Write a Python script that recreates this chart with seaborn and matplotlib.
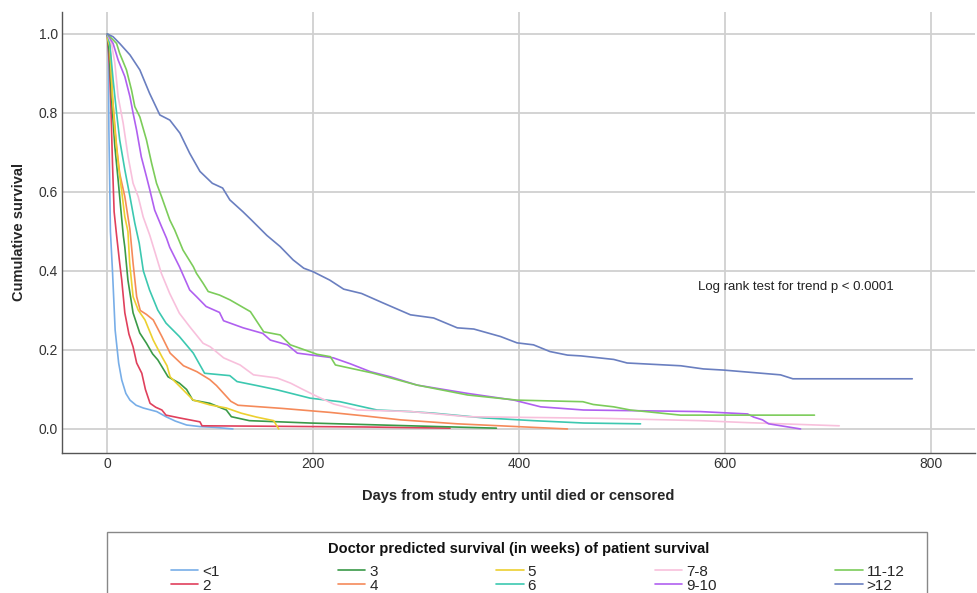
import seaborn as sns
import matplotlib.pyplot as plt
import matplotlib.patches as mpatches
import pandas as pd

# Kaplan-Meier curves, one pair of lists per group
groups = ["<1", "2", "3", "4", "5", "6", "7-8", "9-10", "11-12", ">12"]

days_lt1 = [0, 1, 1.5, 3, 5, 7.6, 11, 14, 18, 22, 28, 35, 48, 57, 66, 77, 90, 105, 122]
surv_lt1 = [1.0, 0.95, 0.76, 0.50, 0.40, 0.25, 0.167, 0.124, 0.09, 0.073, 0.06, 0.053,
            0.044, 0.031, 0.02, 0.01, 0.006, 0.004, 0.0]

days_2 = [0, 2, 3.2, 5, 6.6, 9, 12, 14, 17, 21, 25, 28.5, 33.5, 37, 41.5, 47, 53, 57, 70,
          90, 92, 150, 250, 333]
surv_2 = [1.0, 0.92, 0.841, 0.673, 0.55, 0.49, 0.42, 0.377, 0.294, 0.24, 0.208, 0.167,
          0.141, 0.10, 0.065, 0.055, 0.048, 0.035, 0.028, 0.018, 0.008, 0.007, 0.005, 0.002]

days_3 = [0, 2, 4, 7.3, 10.5, 13.8, 15.5, 17, 20, 25, 31.5, 38, 44, 49, 59, 70, 77, 83,
          99.5, 115.6, 120.5, 138, 197, 294, 378]
surv_3 = [1.0, 0.95, 0.841, 0.715, 0.63, 0.537, 0.49, 0.46, 0.377, 0.294, 0.243, 0.217,
          0.19, 0.175, 0.132, 0.116, 0.10, 0.073, 0.065, 0.048, 0.031, 0.021, 0.015, 0.008, 0.002]

days_4 = [0, 2.4, 5, 9, 12, 17, 22, 25, 28.5, 32, 38, 44.6, 53, 61, 74, 87, 99.5, 106, 113,
          120, 127, 170, 216, 250, 285, 340, 398, 447]
surv_4 = [0.99, 0.976, 0.841, 0.715, 0.647, 0.588, 0.504, 0.42, 0.335, 0.30, 0.29, 0.276,
          0.234, 0.192, 0.16, 0.145, 0.125, 0.11, 0.09, 0.07, 0.06, 0.052, 0.042, 0.033,
          0.023, 0.013, 0.006, 0.0]

days_5 = [0, 2.4, 5, 7.3, 10.5, 13.8, 17, 20, 21.7, 25, 30, 36.6, 44.6, 53, 58, 61, 70.6,
          83.5, 99.5, 115.7, 130, 145, 161.6, 166.5]
surv_5 = [0.99, 0.968, 0.841, 0.757, 0.673, 0.605, 0.537, 0.50, 0.42, 0.335, 0.301, 0.276,
          0.225, 0.183, 0.16, 0.132, 0.107, 0.073, 0.061, 0.053, 0.04, 0.03, 0.021, 0.0]

days_6 = [0, 2.4, 5.6, 9, 12, 17, 22, 26.7, 31, 35, 41, 49, 57, 70, 83.5, 94.5, 119, 126,
          145, 165, 197, 226, 262, 294, 317, 366, 414, 463, 518]
surv_6 = [1.0, 0.976, 0.884, 0.80, 0.732, 0.656, 0.588, 0.521, 0.47, 0.40, 0.352, 0.301,
          0.268, 0.234, 0.192, 0.141, 0.135, 0.12, 0.11, 0.099, 0.078, 0.069, 0.048, 0.044,
          0.04, 0.028, 0.021, 0.015, 0.013]

days_78 = [0, 4, 7.3, 10.5, 15.4, 20.2, 25, 30, 34.8, 41.3, 47.6, 52.5, 60.6, 70, 80, 93,
           100, 113, 129, 142, 165, 178, 190, 204, 220, 243, 295, 350, 479, 576, 622, 711]
surv_78 = [1.0, 0.976, 0.926, 0.841, 0.774, 0.689, 0.622, 0.588, 0.537, 0.49, 0.436, 0.394,
           0.343, 0.293, 0.259, 0.217, 0.208, 0.18, 0.162, 0.137, 0.129, 0.116, 0.10, 0.082,
           0.063, 0.048, 0.044, 0.031, 0.027, 0.021, 0.016, 0.008]

days_910 = [0, 5.6, 10.5, 17, 22, 25, 28.4, 33, 38, 41.3, 46, 52.7, 57.5, 60.6, 70, 80,
            86.6, 96, 109, 112.9, 132, 151, 158.4, 174.9, 184.6, 219.6, 236, 255.6, 275,
            301, 350, 395, 421, 462.6, 576, 622, 628, 636.5, 642.5, 673.5]
surv_910 = [1.0, 0.976, 0.934, 0.892, 0.841, 0.80, 0.757, 0.689, 0.639, 0.605, 0.554, 0.512,
            0.483, 0.46, 0.411, 0.352, 0.335, 0.31, 0.295, 0.274, 0.256, 0.242, 0.225, 0.213,
            0.192, 0.18, 0.165, 0.145, 0.132, 0.111, 0.09, 0.073, 0.056, 0.048, 0.044, 0.038,
            0.030, 0.023, 0.013, 0.0]

days_1112 = [0, 9, 12, 18.6, 23.5, 26.7, 31.6, 38, 43, 47.8, 52.7, 60.7, 65.4, 73.5, 83.5,
             86.6, 93, 98, 109, 119, 139, 151.9, 168, 177.8, 187.6, 203.8, 216.7, 221.6, 257,
             301, 350, 398, 462, 472, 492, 508, 557, 687]
surv_1112 = [1.0, 0.976, 0.951, 0.909, 0.858, 0.816, 0.79, 0.732, 0.673, 0.622, 0.588, 0.529,
             0.504, 0.453, 0.411, 0.394, 0.369, 0.348, 0.339, 0.327, 0.297, 0.246, 0.238,
             0.213, 0.204, 0.189, 0.183, 0.162, 0.142, 0.111, 0.086, 0.073, 0.069, 0.062,
             0.056, 0.048, 0.035, 0.035]

days_gt12 = [0, 5.6, 12, 22, 31.6, 41, 51, 60.7, 70.5, 80, 90, 102, 112, 119, 131.7, 140,
             155, 167.8, 180.5, 190.8, 200, 216, 229.6, 247, 267, 294.5, 317, 340, 356, 382,
             398, 414, 430, 447, 460, 492, 505, 557, 579, 599, 654, 666, 782]
surv_gt12 = [1.0, 0.993, 0.976, 0.947, 0.909, 0.85, 0.795, 0.782, 0.749, 0.698, 0.652, 0.622,
             0.61, 0.58, 0.55, 0.529, 0.49, 0.462, 0.428, 0.407, 0.398, 0.377, 0.354, 0.343,
             0.32, 0.289, 0.281, 0.256, 0.253, 0.234, 0.218, 0.213, 0.196, 0.187, 0.185,
             0.176, 0.167, 0.16, 0.152, 0.149, 0.137, 0.127, 0.127]

curves = [(days_lt1, surv_lt1), (days_2, surv_2), (days_3, surv_3), (days_4, surv_4),
          (days_5, surv_5), (days_6, surv_6), (days_78, surv_78), (days_910, surv_910),
          (days_1112, surv_1112), (days_gt12, surv_gt12)]

colors = ["#78aee8", "#e0405c", "#3a9a48", "#f58a5a", "#ecd030",
          "#3cc8b0", "#f8c0dc", "#b060f0", "#7ccc5a", "#6a7fc0"]

frames = []
for g, (d, s) in zip(groups, curves):
    frames.append(pd.DataFrame({"days": d, "surv": s, "group": g}))
df = pd.concat(frames, ignore_index=True)

sns.set_theme(style="whitegrid")
plt.rcParams["font.family"] = ["Liberation Sans", "DejaVu Sans"]

fig = plt.figure(figsize=(9.77, 5.93), dpi=100)
ax = fig.add_axes([0.0635, 0.236, 0.9345, 0.744])

sns.lineplot(data=df, x="days", y="surv", hue="group", hue_order=groups,
             palette=dict(zip(groups, colors)), sort=False, estimator=None,
             linewidth=1.2, ax=ax)

ax.set_xlim(-44, 843)
ax.set_ylim(-0.061, 1.056)
ax.set_xticks([0, 200, 400, 600, 800])
ax.set_yticks([0.0, 0.2, 0.4, 0.6, 0.8, 1.0])
ax.set_yticklabels(["0.0", "0.2", "0.4", "0.6", "0.8", "1.0"])
ax.grid(True, color="#d0d0d0", linewidth=1.3)
ax.set_facecolor("white")
for side in ["top", "right"]:
    ax.spines[side].set_visible(False)
for side in ["left", "bottom"]:
    ax.spines[side].set_color("#555555")
    ax.spines[side].set_linewidth(1.0)
ax.tick_params(length=0, labelsize=10, colors="#333333", pad=3)

ax.set_xlabel("Days from study entry until died or censored", fontsize=10.5,
              fontweight="bold", labelpad=13)
ax.set_ylabel("Cumulative survival", fontsize=10.5, fontweight="bold", labelpad=9)

ax.text(574, 0.36, "Log rank test for trend p < 0.0001", fontsize=9.5,
        color="#222222", va="center", ha="left")

handles, labels = ax.get_legend_handles_labels()
ax.get_legend().remove()

# legend frame runs off the bottom edge like the original
fig.patches.append(mpatches.Rectangle((0.1095, -0.1), 0.8395, 0.2029,
                                      transform=fig.transFigure, fill=False,
                                      edgecolor="#888888", linewidth=1.0))
fig.text(0.5307, 1 - 549 / 593, "Doctor predicted survival (in weeks) of patient survival",
         ha="center", va="center", fontsize=10.5, fontweight="bold", color="#111111")

leg = fig.legend(handles, labels, ncol=5, loc="upper left", mode="expand",
                 bbox_to_anchor=(0.1638, -0.2, 0.7727, 1 - 554 / 593 + 0.2),
                 frameon=False, handlelength=1.8, handletextpad=0.25,
                 labelspacing=0.0, borderpad=0.2,
                 prop={"family": ["Liberation Sans Narrow", "Liberation Sans"], "size": 11})

fig.savefig("out.png", dpi=100)
